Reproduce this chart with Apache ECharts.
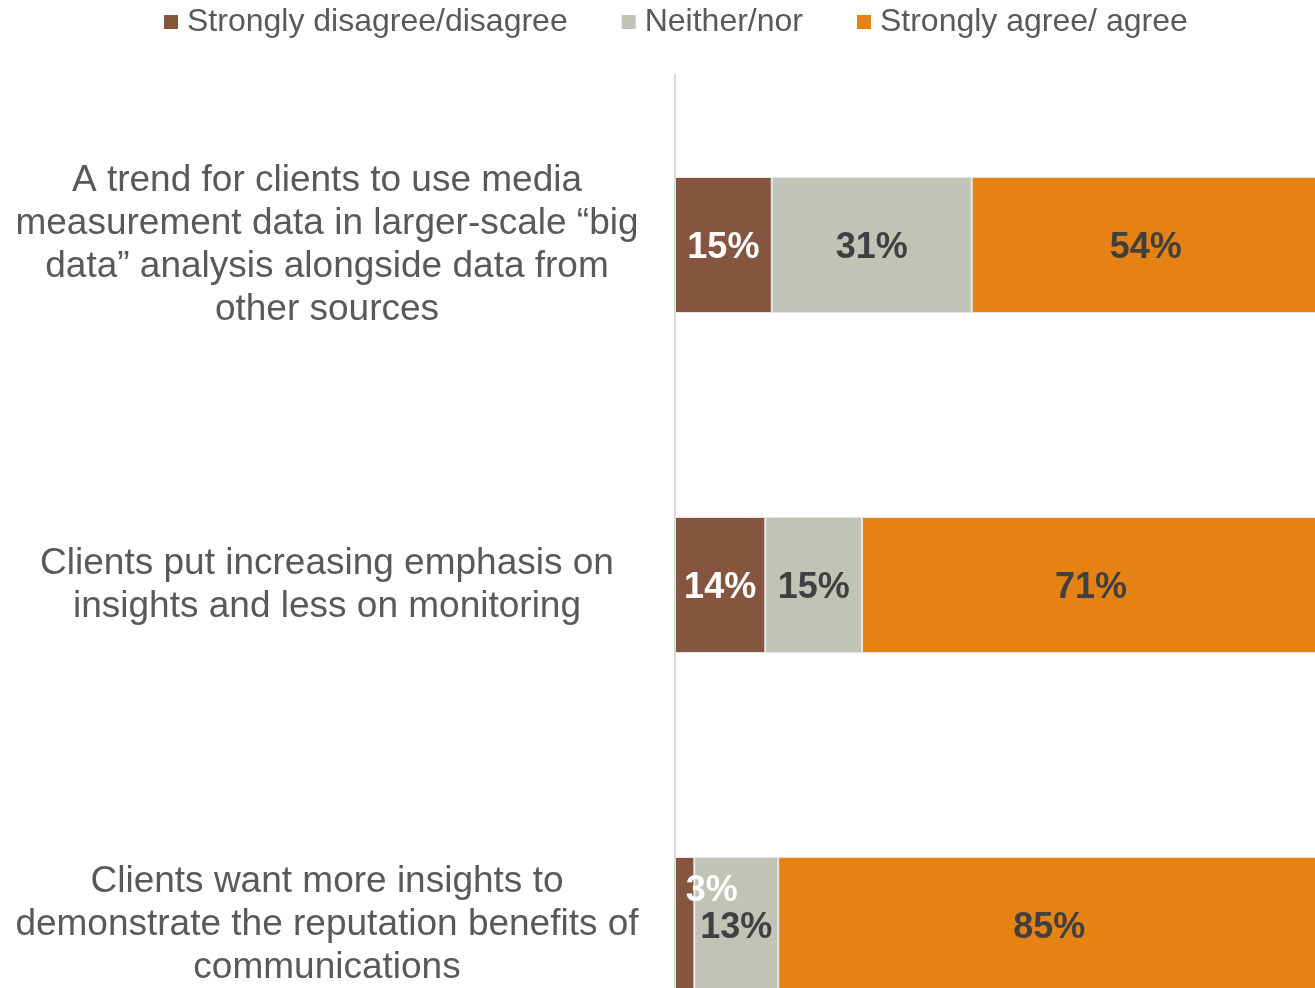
<!DOCTYPE html>
<html>
<head>
<meta charset="utf-8">
<script src="https://cdn.jsdelivr.net/npm/echarts@6/dist/echarts.min.js"></script>
<style>
  html, body { margin: 0; padding: 0; background: #ffffff; }
  #chart { width: 1315px; height: 988px; }
</style>
</head>
<body>
<div id="chart"></div>
<script>
// Survey statements, top to bottom
const categories = [
  'A trend for clients to use media\nmeasurement data in larger-scale \u201cbig\ndata\u201d analysis alongside data from\nother sources',
  'Clients put increasing emphasis on\ninsights and less on monitoring',
  'Clients want more insights to\ndemonstrate the reputation benefits of\ncommunications'
];

// Share of respondents (%)
const disagree = [15, 14, 3];
const neither = [31, 15, 13];
const agree = [54, 71, 85];

const seriesNames = ['Strongly disagree/disagree', 'Neither/nor', 'Strongly agree/ agree'];
const colors = ['#865540', '#BFC4B6', '#E58213'];

const FONT = 'Liberation Sans, Arial, sans-serif';
const chart = echarts.init(document.getElementById('chart'));

function pctLabel(color) {
  return {
    show: true,
    position: 'inside',
    offset: [0, 3],
    color: color,
    fontFamily: FONT,
    fontWeight: 'bold',
    fontSize: 36,
    formatter: p => p.value + '%'
  };
}

function buildData(values, offsets) {
  return values.map((v, i) => {
    const item = { value: v };
    if (offsets && offsets[i]) {
      item.label = { offset: offsets[i] };
    }
    return item;
  });
}

const barCommon = {
  type: 'bar',
  stack: 'total',
  barWidth: 136,
  itemStyle: { borderColor: '#e4e4e4', borderWidth: 1 }
};

chart.setOption({
  animation: false,
  color: colors,
  legend: {
    top: 1,
    left: 159,
    itemWidth: 14,
    itemHeight: 14,
    itemGap: 54,
    icon: 'rect',
    itemStyle: { borderWidth: 0 },
    textStyle: {
      fontFamily: FONT,
      fontSize: 32,
      color: '#595959',
      padding: [0, 0, 0, 4]
    },
    data: seriesNames
  },
  grid: {
    left: 675,
    right: -5,
    top: 75,
    height: 1020,
    containLabel: false,
    outerBoundsMode: 'none'
  },
  xAxis: {
    type: 'value',
    min: 0,
    max: 100,
    show: false
  },
  yAxis: {
    type: 'category',
    inverse: true,
    data: categories,
    axisLine: { show: true, lineStyle: { color: '#D9D9D9', width: 2 } },
    axisTick: { show: false },
    axisLabel: {
      margin: 348,
      align: 'center',
      fontFamily: FONT,
      fontSize: 37,
      lineHeight: 43,
      color: '#595959',
      padding: [4, 0, 0, 0]
    }
  },
  series: [
    Object.assign({}, barCommon, {
      name: seriesNames[0],
      data: buildData(disagree, [null, null, [27, -34]]),
      label: pctLabel('#ffffff')
    }),
    Object.assign({}, barCommon, {
      name: seriesNames[1],
      data: buildData(neither),
      label: pctLabel('#404040')
    }),
    Object.assign({}, barCommon, {
      name: seriesNames[2],
      data: buildData(agree),
      label: pctLabel('#404040')
    })
  ]
});
</script>
</body>
</html>
